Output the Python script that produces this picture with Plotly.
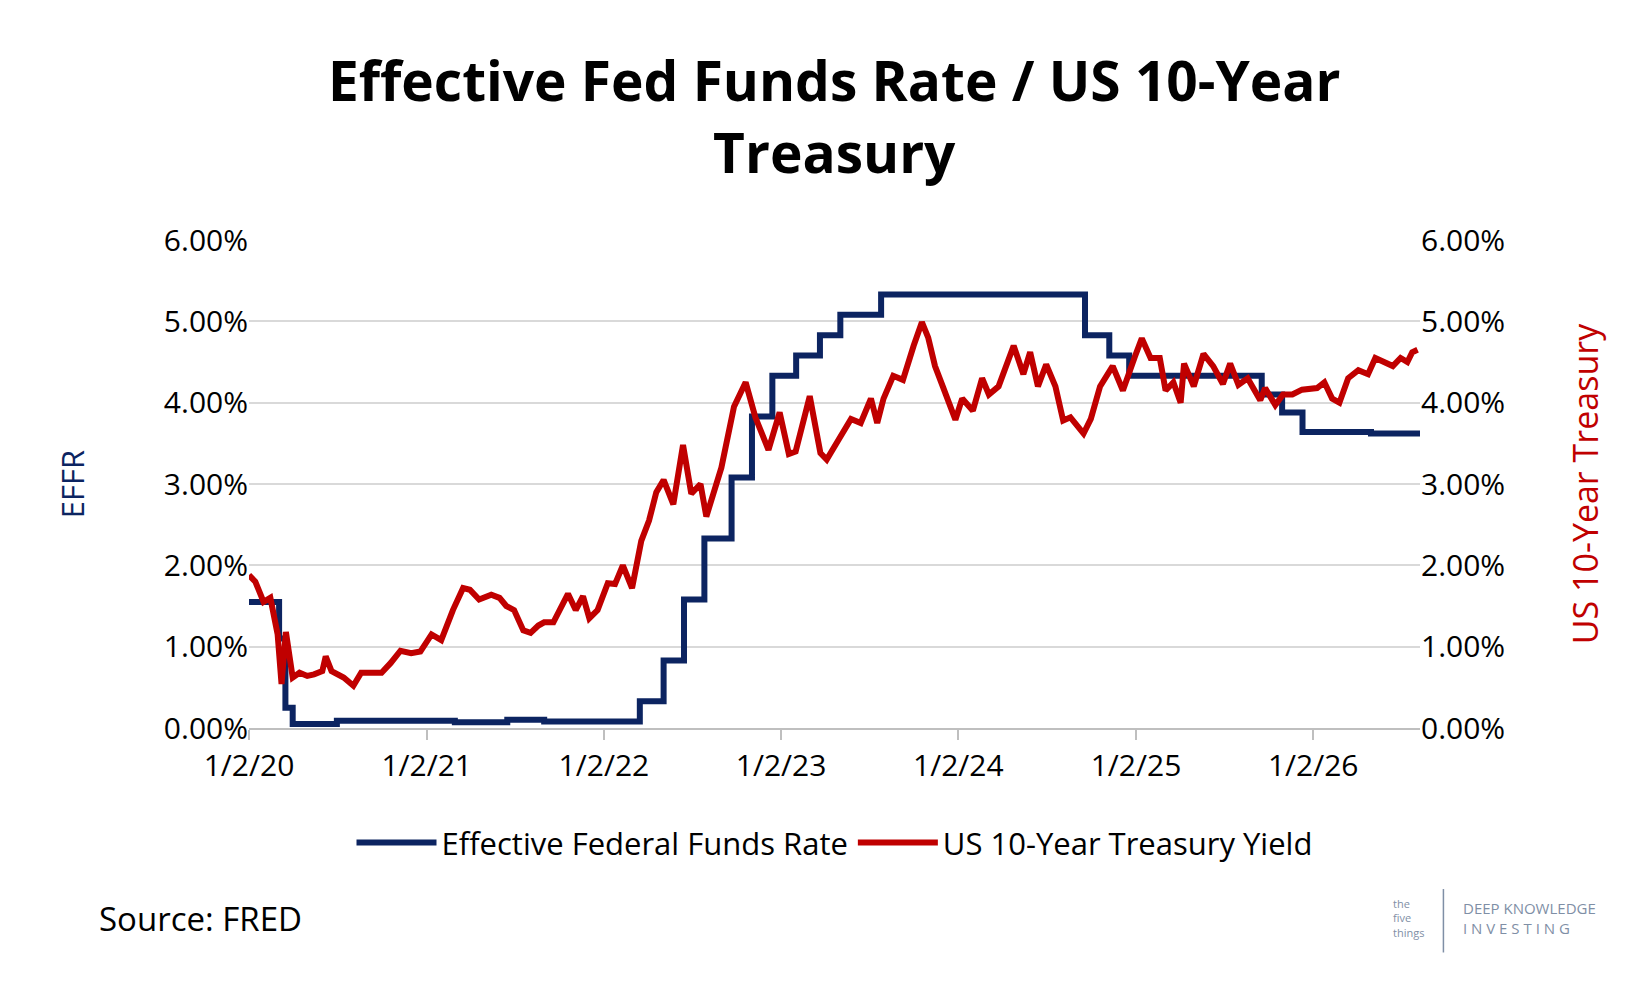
import plotly.graph_objects as go

# EFFR step changes (date, rate %)
effr_dates = ["2020-01-02", "2020-03-04", "2020-03-17", "2020-04-01", "2020-07-01", "2021-03-01",
              "2021-06-17", "2021-09-01", "2022-03-17", "2022-05-05", "2022-06-16", "2022-07-28",
              "2022-09-22", "2022-11-03", "2022-12-15", "2023-02-02", "2023-03-23", "2023-05-04",
              "2023-07-27", "2024-09-19", "2024-11-08", "2024-12-19", "2025-09-18", "2025-10-30",
              "2025-12-11", "2026-05-01", "2026-08-10"]
effr_vals = [1.55, 1.10, 0.25, 0.05, 0.09, 0.07,
             0.10, 0.08, 0.33, 0.83, 1.58, 2.33,
             3.08, 3.83, 4.33, 4.58, 4.83, 5.08,
             5.33, 4.83, 4.58, 4.33, 4.10, 3.88,
             3.64, 3.62, 3.63]

# 10-year yield readings
ust_dates = ["2020-01-02", "2020-01-15", "2020-02-01", "2020-02-15", "2020-03-01", "2020-03-09", "2020-03-18",
             "2020-04-01", "2020-04-15", "2020-05-01", "2020-05-15", "2020-06-01", "2020-06-08", "2020-06-20",
             "2020-07-15", "2020-08-04", "2020-08-20", "2020-09-15", "2020-10-01", "2020-10-20", "2020-11-09",
             "2020-12-01", "2020-12-20", "2021-01-12", "2021-02-01", "2021-02-25", "2021-03-18", "2021-04-01",
             "2021-04-20", "2021-05-15", "2021-06-01", "2021-06-15", "2021-07-01", "2021-07-20", "2021-08-04",
             "2021-08-20", "2021-09-01", "2021-09-20", "2021-10-20", "2021-11-05", "2021-11-20", "2021-12-03",
             "2021-12-20", "2022-01-10", "2022-01-25", "2022-02-10", "2022-03-01", "2022-03-20", "2022-04-05",
             "2022-04-20", "2022-05-05", "2022-05-25", "2022-06-14", "2022-07-01", "2022-07-20", "2022-08-01",
             "2022-08-20", "2022-09-01", "2022-09-27", "2022-10-21", "2022-11-10", "2022-12-07", "2022-12-30",
             "2023-01-18", "2023-02-01", "2023-03-02", "2023-03-24", "2023-04-06", "2023-05-01", "2023-05-26",
             "2023-06-15", "2023-07-06", "2023-07-19", "2023-08-01", "2023-08-21", "2023-09-10", "2023-10-02",
             "2023-10-19", "2023-11-01", "2023-11-15", "2023-12-01", "2023-12-27", "2024-01-10", "2024-02-01",
             "2024-02-20", "2024-03-05", "2024-03-25", "2024-04-25", "2024-05-15", "2024-05-29", "2024-06-14",
             "2024-07-01", "2024-07-20", "2024-08-05", "2024-08-20", "2024-09-16", "2024-10-01", "2024-10-20",
             "2024-11-15", "2024-12-06", "2024-12-31", "2025-01-14", "2025-02-01", "2025-02-20", "2025-03-04",
             "2025-03-20", "2025-04-04", "2025-04-11", "2025-05-01", "2025-05-21", "2025-06-10", "2025-06-30",
             "2025-07-15", "2025-08-01", "2025-08-20", "2025-09-15", "2025-09-25", "2025-10-16", "2025-11-01",
             "2025-11-20", "2025-12-10", "2026-01-10", "2026-01-25", "2026-02-10", "2026-02-25", "2026-03-15",
             "2026-04-05", "2026-04-25", "2026-05-10", "2026-05-25", "2026-06-15", "2026-07-01", "2026-07-15",
             "2026-07-25", "2026-08-05"]
ust_vals = [1.88, 1.80, 1.55, 1.60, 1.15, 0.54, 1.18,
            0.62, 0.68, 0.64, 0.66, 0.70, 0.88, 0.70,
            0.62, 0.52, 0.68, 0.68, 0.68, 0.80, 0.95,
            0.92, 0.94, 1.15, 1.08, 1.45, 1.72, 1.70,
            1.58, 1.64, 1.60, 1.50, 1.45, 1.20, 1.17,
            1.26, 1.30, 1.30, 1.65, 1.45, 1.62, 1.35,
            1.45, 1.78, 1.77, 2.00, 1.72, 2.30, 2.55,
            2.90, 3.05, 2.75, 3.48, 2.88, 3.00, 2.60,
            2.95, 3.20, 3.95, 4.25, 3.82, 3.42, 3.88,
            3.37, 3.40, 4.08, 3.38, 3.30, 3.55, 3.80,
            3.75, 4.05, 3.75, 4.05, 4.33, 4.28, 4.70,
            4.99, 4.80, 4.45, 4.20, 3.79, 4.05, 3.90,
            4.30, 4.10, 4.20, 4.70, 4.35, 4.62, 4.20,
            4.47, 4.20, 3.78, 3.82, 3.62, 3.80, 4.20,
            4.45, 4.15, 4.57, 4.79, 4.55, 4.55, 4.15,
            4.25, 4.00, 4.48, 4.20, 4.60, 4.45, 4.23,
            4.48, 4.22, 4.30, 4.03, 4.18, 3.97, 4.10,
            4.10, 4.16, 4.18, 4.25, 4.05, 4.00, 4.30,
            4.40, 4.35, 4.55, 4.50, 4.45, 4.55, 4.50,
            4.62, 4.65]

tick_dates = ["2020-01-02", "2021-01-02", "2022-01-02", "2023-01-02", "2024-01-02", "2025-01-02", "2026-01-02"]
tick_labels = ["1/2/20", "1/2/21", "1/2/22", "1/2/23", "1/2/24", "1/2/25", "1/2/26"]

NAVY = "#0c2461"
RED = "#c00000"
FONT = "Open Sans"

fig = go.Figure()
fig.add_trace(go.Scatter(x=effr_dates, y=effr_vals, mode="lines", line=dict(color=NAVY, width=6, shape="hv"),
                         name="Effective Federal Funds Rate"))
fig.add_trace(go.Scatter(x=ust_dates, y=ust_vals, mode="lines", line=dict(color=RED, width=6),
                         name="US 10-Year Treasury Yield", yaxis="y2"))

yax = dict(range=[0, 6], dtick=1, tickformat=".2f", ticksuffix="%", showgrid=True, gridcolor="#d9d9d9",
           gridwidth=2, zeroline=False, tickfont=dict(size=30, color="black"), fixedrange=True)
fig.update_layout(
    width=1650, height=990,
    paper_bgcolor="white", plot_bgcolor="white",
    font=dict(family=FONT, color="black"),
    margin=dict(l=241, r=238, t=232, b=270),
    xaxis=dict(range=["2020-01-02", "2026-08-10"], tickvals=tick_dates, ticktext=tick_labels,
               showgrid=False, showline=True, linecolor="#bfbfbf", linewidth=2, ticks="outside",
               tickcolor="#bfbfbf", ticklen=10, tickwidth=2, tickfont=dict(size=30)),
    yaxis=dict(yax, title=dict(text="EFFR", font=dict(size=31, color=NAVY), standoff=70)),
    yaxis2=dict(yax, overlaying="y", side="right", showgrid=False,
                title=dict(text="US 10-Year Treasury", font=dict(size=34, color=RED), standoff=70)),
    legend=dict(orientation="h", x=0.5, xanchor="center", y=-0.18, yanchor="top",
                font=dict(size=31), itemwidth=80, traceorder="normal"),
    showlegend=True,
)
fig.add_annotation(text="<b>Effective Fed Funds Rate / US 10-Year<br>Treasury</b>", xref="paper", yref="paper",
                   x=0.5, y=1.41, xanchor="center", yanchor="top", showarrow=False,
                   font=dict(size=55, color="black"))
fig.add_annotation(text="Source: FRED", xref="paper", yref="paper", x=-0.13, y=-0.39, xanchor="left",
                   yanchor="middle", showarrow=False, font=dict(size=33, color="black"))
fig.add_annotation(text="the<br>five<br>things", xref="paper", yref="paper", x=0.975, y=-0.39,
                   xanchor="left", yanchor="middle", showarrow=False, align="left",
                   font=dict(size=11, color="#7f8fa6"))
fig.add_shape(type="line", xref="paper", yref="paper", x0=1.02, x1=1.02, y0=-0.33, y1=-0.46,
              line=dict(color="#7f8fa6", width=1.5))
fig.add_annotation(text="DEEP KNOWLEDGE<br>I N V E S T I N G", xref="paper", yref="paper", x=1.035, y=-0.39,
                   xanchor="left", yanchor="middle", showarrow=False, align="left",
                   font=dict(size=15, color="#7f8fa6"))

fig.write_html("out.html")
